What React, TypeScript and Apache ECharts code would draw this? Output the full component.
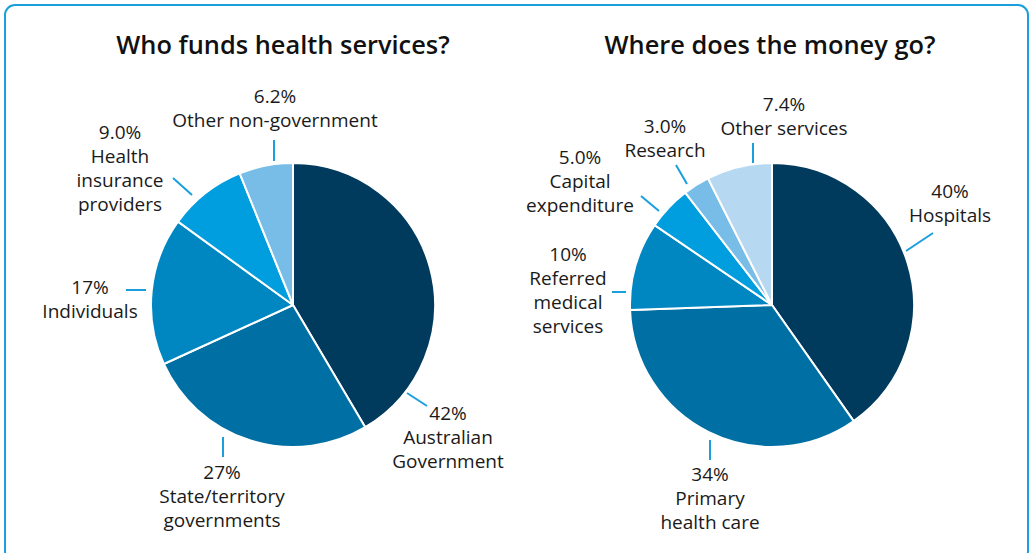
import React, { useEffect, useRef } from "react";
import * as echarts from "echarts";

// ---- data ----
const fundingTitle = "Who funds health services?";
const fundingCategories = [
  "Australian\nGovernment",
  "State/territory\ngovernments",
  "Individuals",
  "Health\ninsurance\nproviders",
  "Other non-government",
];
const fundingValues = [42, 27, 17, 9.0, 6.2];

const spendingTitle = "Where does the money go?";
const spendingCategories = [
  "Hospitals",
  "Primary\nhealth care",
  "Referred\nmedical\nservices",
  "Capital\nexpenditure",
  "Research",
  "Other services",
];
const spendingValues = [40, 34, 10, 5.0, 3.0, 7.4];

// ---- styles / layout ----
const fundingColors = ["#003a5d", "#006fa3", "#0087c2", "#009ddf", "#77bde8"];
const spendingColors = ["#003a5d", "#006fa3", "#0087c2", "#009ddf", "#77bde8", "#b7d8f1"];
const ACCENT = "#1a9fdc";
const FONT = "'Open Sans', 'Noto Sans', sans-serif";
const PIE_R = 142;
const CENTERS = [
  [293, 305],
  [772, 305],
];
// label placement relative to each pie's centre: leader line [x0,y0,x1,y1], label centre [x,y]
const PLACEMENTS = [
  [
    { l: [114, 88, 134, 101], c: [155, 132] },
    { l: [-70, 132, -70, 152], c: [-71, 191] },
    { l: [-167, -15, -147, -15], c: [-203, -6] },
    { l: [-120, -127, -101, -110], c: [-173, -137] },
    { l: [-19, -165, -19, -144], c: [-18, -197] },
  ],
  [
    { l: [134, -54, 161, -72], c: [178, -102] },
    { l: [-62, 135, -62, 155], c: [-62, 193] },
    { l: [-160, -13, -146, -13], c: [-204, -15] },
    { l: [-131, -109, -113, -94], c: [-192, -124] },
    { l: [-96, -140, -85, -121], c: [-107, -167] },
    { l: [-19, -162, -19, -142], c: [12, -189] },
  ],
];

const fmtPct = (v: number) => (v >= 10 ? `${v}%` : `${v.toFixed(1)}%`);

function labelLayout(params: any) {
  const s = params.seriesIndex;
  const p = PLACEMENTS[s][params.dataIndex];
  const [cx, cy] = CENTERS[s];
  const x0 = cx + p.l[0], y0 = cy + p.l[1], x1 = cx + p.l[2], y1 = cy + p.l[3];
  return {
    x: cx + p.c[0],
    y: cy + p.c[1],
    align: "center",
    verticalAlign: "middle",
    labelLinePoints: [
      [x0, y0],
      [(x0 + x1) / 2, (y0 + y1) / 2],
      [x1, y1],
    ],
  };
}

function makeSeries(idx: number, cats: string[], vals: number[], colors: string[]) {
  return {
    type: "pie",
    center: CENTERS[idx],
    radius: [0, PIE_R],
    startAngle: 90,
    clockwise: true,
    avoidLabelOverlap: false,
    silent: true,
    itemStyle: { borderColor: "#ffffff", borderWidth: 2 },
    label: {
      show: true,
      position: "outside",
      color: "#1a1a1a",
      fontFamily: FONT,
      fontSize: 19,
      lineHeight: 24,
      formatter: (p: any) => `${fmtPct(p.value)}\n${p.name}`,
    },
    labelLine: { show: true, lineStyle: { color: ACCENT, width: 2 } },
    labelLayout,
    emphasis: { disabled: true },
    data: cats.map((name, i) => ({ name, value: vals[i], itemStyle: { color: colors[i] } })),
  };
}

export default function App() {
  const ref = useRef<HTMLDivElement>(null);
  useEffect(() => {
    if (!ref.current) return;
    const chart = echarts.init(ref.current, undefined, { renderer: "svg" });
    chart.setOption({
      animation: false,
      backgroundColor: "#ffffff",
      graphic: [
        {
          type: "rect",
          shape: { x: 5, y: 5, width: 1023, height: 556, r: 10 },
          style: { fill: "none", stroke: ACCENT, lineWidth: 2 },
          silent: true,
        },
        {
          type: "text",
          x: 283,
          y: 44,
          style: {
            text: fundingTitle,
            font: `600 25.4px ${FONT}`,
            fill: "#111111",
            align: "center",
            verticalAlign: "middle",
          },
        },
        {
          type: "text",
          x: 770,
          y: 44,
          style: {
            text: spendingTitle,
            font: `600 25.4px ${FONT}`,
            fill: "#111111",
            align: "center",
            verticalAlign: "middle",
          },
        },
      ],
      series: [
        makeSeries(0, fundingCategories, fundingValues, fundingColors),
        makeSeries(1, spendingCategories, spendingValues, spendingColors),
      ],
    });
    return () => chart.dispose();
  }, []);
  return (
    <div
      ref={ref}
      style={{ position: "absolute", left: 0, top: 0, width: 1030, height: 553, background: "#fff" }}
    />
  );
}
